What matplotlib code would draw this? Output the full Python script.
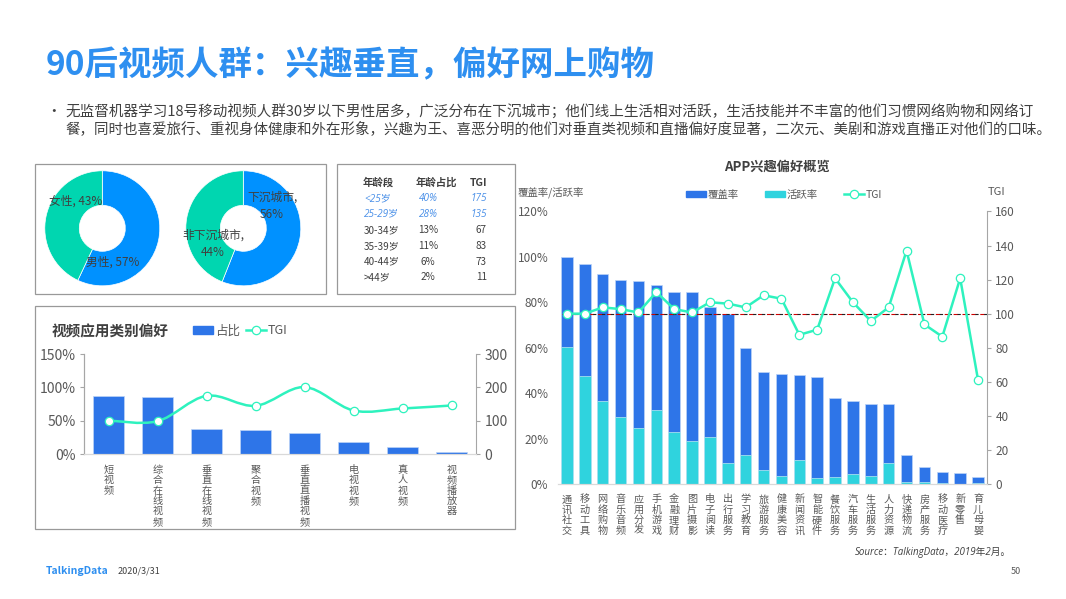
import matplotlib
matplotlib.use("Agg")
import matplotlib.pyplot as plt
from matplotlib.lines import Line2D
from matplotlib.patches import Patch, PathPatch, Rectangle
from matplotlib.path import Path

plt.rcParams['font.family'] = ['Noto Sans CJK SC', 'DejaVu Sans']

W, H = 1066, 599

# donuts
gender_labels = ["男性", "女性"]
gender_share = [57, 43]
city_labels = ["下沉城市", "非下沉城市"]
city_share = [56, 44]

# age table
table_header = ["年龄段", "年龄占比", "TGI"]
age_groups = ["<25岁", "25-29岁", "30-34岁", "35-39岁", "40-44岁", ">44岁"]
age_share = ["40%", "28%", "13%", "11%", "6%", "2%"]
age_tgi = ["175", "135", "67", "83", "73", "11"]

# video app categories
video_cats = ["短视频", "综合在线视频", "垂直在线视频", "聚合视频", "垂直直播视频", "电视视频", "真人视频", "视频播放器"]
video_share = [86.5, 85, 38.5, 37, 31.5, 19, 10.5, 3.5]
video_tgi = [101, 99, 175, 145, 201, 131, 137, 146]

# APP interests
app_cats = ["通讯社交", "移动工具", "网络购物", "音乐音频", "应用分发", "手机游戏", "金融理财", "图片摄影",
            "电子阅读", "出行服务", "学习教育", "旅游服务", "健康美容", "新闻资讯", "智能硬件", "餐饮服务",
            "汽车服务", "生活服务", "人力资源", "快递物流", "房产服务", "移动医疗", "新零售", "育儿母婴"]
app_cover = [100, 97, 92.3, 90, 89.6, 87.5, 84.7, 84.4, 77.8, 75, 60, 49.3,
             48.3, 48, 47.1, 37.9, 36.6, 35.2, 35.2, 12.8, 7.4, 5.4, 4.8, 3.1]
app_active = [60.4, 47.4, 36.7, 29.5, 24.5, 32.6, 23, 19, 20.7, 9.1, 12.8, 6,
              3.7, 10.7, 2.8, 3.1, 4.4, 3.4, 9.2, 0.8, 0.7, 0.3, 0.2, 0.6]
app_tgi = [100, 100, 103.7, 102.7, 100.7, 112.7, 102.7, 100.7, 106.7, 105.9, 103.7, 110.8,
           108.8, 87.6, 90.6, 120.8, 106.7, 95.7, 103.7, 137, 93.7, 86.5, 120.8, 61]

BLUE = "#2E75E8"
CYAN = "#2FD3DE"
MINT = "#2EF2BE"
GREY = "#595959"
DARK = "#404040"
AXIS = "#a6a6a6"
LATIN_ITALIC = ['Open Sans', 'Noto Sans CJK SC']

fig = plt.figure(figsize=(W / 100, H / 100), dpi=100, facecolor="white")


def add_axes_px(left, top, right, bottom):
    return fig.add_axes([left / W, 1 - bottom / H, (right - left) / W, (bottom - top) / H])


def txt(x, y, s, **kw):
    kw.setdefault("ha", "left")
    kw.setdefault("va", "center")
    kw.setdefault("color", DARK)
    return fig.text(x / W, 1 - y / H, s, **kw)


def frame(left, top, right, bottom):
    fig.add_artist(Rectangle((left / W, 1 - bottom / H), (right - left) / W, (bottom - top) / H,
                             transform=fig.transFigure, fill=False, edgecolor="#999999", linewidth=0.9))


def vertical(label):
    return "\n".join(label)


def smooth_line(ax, xs, ys, **kw):
    # Bezier segments through the points, like the smoothed line in office charts
    verts = [(xs[0], ys[0])]
    codes = [Path.MOVETO]
    n = len(xs)
    for i in range(n - 1):
        p0 = max(i - 1, 0)
        p3 = min(i + 2, n - 1)
        verts.append((xs[i] + (xs[i + 1] - xs[p0]) / 6, ys[i] + (ys[i + 1] - ys[p0]) / 6))
        verts.append((xs[i + 1] - (xs[p3] - xs[i]) / 6, ys[i + 1] - (ys[p3] - ys[i]) / 6))
        verts.append((xs[i + 1], ys[i + 1]))
        codes += [Path.CURVE4] * 3
    ax.add_patch(PathPatch(Path(verts, codes), fill=False, **kw))


def tgi_handle():
    return Line2D([], [], color=MINT, lw=1.8, marker="o", ms=6, mfc="white", mec=MINT, mew=0.9)


# title and intro
txt(46, 66, "90后视频人群：兴趣垂直，偏好网上购物", fontsize=24.1, fontweight="bold", color="#2E8FF0")
txt(46, 112, "•", fontsize=10.5)
txt(65, 112, "无监督机器学习18号移动视频人群30岁以下男性居多，广泛分布在下沉城市；他们线上生活相对活跃，生活技能并不丰富的他们习惯网络购物和网络订",
    fontsize=10.5)
txt(65, 129, "餐，同时也喜爱旅行、重视身体健康和外在形象，兴趣为王、喜恶分明的他们对垂直类视频和直播偏好度显著，二次元、美剧和游戏直播正对他们的口味。",
    fontsize=10.42)

frame(34.5, 163.5, 325.5, 293.5)
frame(336.5, 163.5, 514.5, 293.5)
frame(34.5, 305.5, 514.5, 528.5)

# donuts
for cx, share in [(102.3, gender_share), (243.3, city_share)]:
    ax = add_axes_px(cx - 57.5, 228.3 - 57.5, cx + 57.5, 228.3 + 57.5)
    ax.pie(share, startangle=90, counterclock=False, colors=["#0091FF", "#00D6B0"], radius=1,
           wedgeprops=dict(width=0.6, edgecolor="white", linewidth=0.5))
    ax.set_xlim(-1, 1)
    ax.set_ylim(-1, 1)

txt(112.3, 262, f"{gender_labels[0]}, {gender_share[0]}%", fontsize=8.5, ha="center")
txt(76, 200.7, f"{gender_labels[1]}, {gender_share[1]}%", fontsize=8.5, ha="center")
txt(272, 197.3, f"{city_labels[0]},", fontsize=8.5, ha="center")
txt(272, 214, f"{city_share[0]}%", fontsize=8.5, ha="center")
txt(213.3, 235, f"{city_labels[1]},", fontsize=8.5, ha="center")
txt(213, 252.3, f"{city_share[1]}%", fontsize=8.5, ha="center")

# age table
txt(378, 182.7, table_header[0], fontsize=7.5, fontweight="bold", ha="center")
txt(436.7, 182.7, table_header[1], fontsize=7.5, fontweight="bold", ha="center")
txt(478, 182.7, table_header[2], fontsize=7.5, fontweight="bold", ha="center")
row_y = [198.7, 214.3, 230.3, 246, 261.7, 277]
for i, y in enumerate(row_y):
    style = dict(fontsize=7.2)
    if i < 2:
        style.update(color="#4A90E8", style="italic", family=LATIN_ITALIC)
    txt(364, y, age_groups[i], **style)
    txt(428, y, age_share[i], ha="center", **style)
    txt(487, y, age_tgi[i], ha="right", **style)

# video app chart
ax1 = add_axes_px(84, 354, 476, 454.3)
x1 = list(range(len(video_cats)))
ax1.bar(x1, video_share, width=0.63, color=BLUE, edgecolor="#BCD3F7", linewidth=0.5)
ax1.set_xlim(-0.5, len(video_cats) - 0.5)
ax1.set_ylim(0, 150)
ax1.set_yticks([0, 50, 100, 150])
ax1.set_yticklabels(["0%", "50%", "100%", "150%"])
ax1.set_xticks(x1)
ax1.set_xticklabels([vertical(c) for c in video_cats], fontsize=7.3, color=GREY, linespacing=1.05, va="top")
ax1.tick_params(axis="x", length=0, pad=7.5)
ax1.tick_params(axis="y", labelsize=10, labelcolor=GREY, length=3, width=0.8, color=AXIS, pad=3)

ax1r = ax1.twinx()
ax1r.set_ylim(0, 300)
ax1r.set_yticks([0, 100, 200, 300])
ax1r.tick_params(axis="y", labelsize=10, labelcolor=GREY, length=3, width=0.8, color=AXIS, pad=3)
smooth_line(ax1r, x1, video_tgi, edgecolor=MINT, linewidth=1.8)
ax1r.plot(x1, video_tgi, ls="none", marker="o", ms=6, mfc="white", mec=MINT, mew=0.9)

for a in (ax1, ax1r):
    a.spines["top"].set_visible(False)
    a.spines["left"].set_color(AXIS)
    a.spines["right"].set_color(AXIS)
    a.spines["bottom"].set_color("#d9d9d9")
ax1.spines["right"].set_visible(False)

txt(52, 331, "视频应用类别偏好", fontsize=10.5, fontweight="bold")
ax1.legend([Patch(color=BLUE), tgi_handle()], ["占比", "TGI"], ncol=2, frameon=False, fontsize=9,
           labelcolor=GREY, loc="center left", bbox_to_anchor=((193 - 84) / 392, (454.3 - 331) / 100.3),
           handlelength=1.6, handleheight=0.55, handletextpad=0.2, columnspacing=0.4, borderpad=0, borderaxespad=0)

# APP chart
ax2 = add_axes_px(558, 211.5, 987, 484)
x2 = list(range(len(app_cats)))
ax2.bar(x2, app_cover, width=0.65, color=BLUE, edgecolor="#BCD3F7", linewidth=0.5)
ax2.bar(x2, app_active, width=0.65, color=CYAN, edgecolor="#BCE9F2", linewidth=0.5)
ax2.set_xlim(-0.5, len(app_cats) - 0.5)
ax2.set_ylim(0, 120)
ax2.set_yticks(range(0, 121, 20))
ax2.set_yticklabels([f"{v}%" for v in range(0, 121, 20)])
ax2.set_xticks(x2)
ax2.set_xticklabels([vertical(c) for c in app_cats], fontsize=7.3, color=GREY, linespacing=1.05, va="top")
ax2.tick_params(axis="x", length=0, pad=7.5)
ax2.tick_params(axis="y", labelsize=8.5, labelcolor=GREY, length=0, pad=7)

ax2r = ax2.twinx()
ax2r.set_ylim(0, 160)
ax2r.set_yticks(range(0, 161, 20))
ax2r.tick_params(axis="y", labelsize=8.5, labelcolor=GREY, length=3, width=0.8, color=AXIS, pad=3)
# red dashes with a short dark dash in each gap
ax2r.hlines(100, -0.25, len(app_cats) - 0.5, color="#D00000", linewidth=0.8, linestyles=(0, (4, 4)), zorder=1.5)
ax2r.hlines(100, -0.25, len(app_cats) - 0.5, color="#222222", linewidth=0.8, linestyles=(4.5, (3, 5)), zorder=1.6)
ax2r.plot(x2, app_tgi, color=MINT, lw=1.8, marker="o", ms=6, mfc="white", mec=MINT, mew=0.9, zorder=3)

for a in (ax2, ax2r):
    a.spines["top"].set_visible(False)
    a.spines["left"].set_visible(False)
    a.spines["right"].set_color(AXIS)
    a.spines["bottom"].set_color("#d9d9d9")
ax2.spines["right"].set_visible(False)

txt(777, 167, "APP兴趣偏好概览", fontsize=9.5, fontweight="bold", ha="center")
txt(518, 193, "覆盖率/活跃率", fontsize=7.5, color=GREY)
txt(988, 192, "TGI", fontsize=8, color=GREY)
ax2.legend([Patch(color=BLUE), Patch(color=CYAN), tgi_handle()], ["覆盖率", "活跃率", "TGI"], ncol=3, frameon=False,
           fontsize=7.5, labelcolor=GREY, loc="center left",
           bbox_to_anchor=((686 - 558) / 429, (484 - 194.7) / 272.5),
           handlelength=1.9, handleheight=0.6, handletextpad=0.2, columnspacing=2.5, borderpad=0, borderaxespad=0)

# footer
txt(855, 552, "Source：TalkingData，2019年2月。", fontsize=7, style="italic", family=LATIN_ITALIC)
txt(46, 571, "TalkingData", fontsize=7.5, fontweight="bold", color="#2E8FF0")
txt(118, 571, "2020/3/31", fontsize=6.5)
txt(1011, 571, "50", fontsize=6.5, color=GREY)

fig.savefig("out.png", dpi=100)
